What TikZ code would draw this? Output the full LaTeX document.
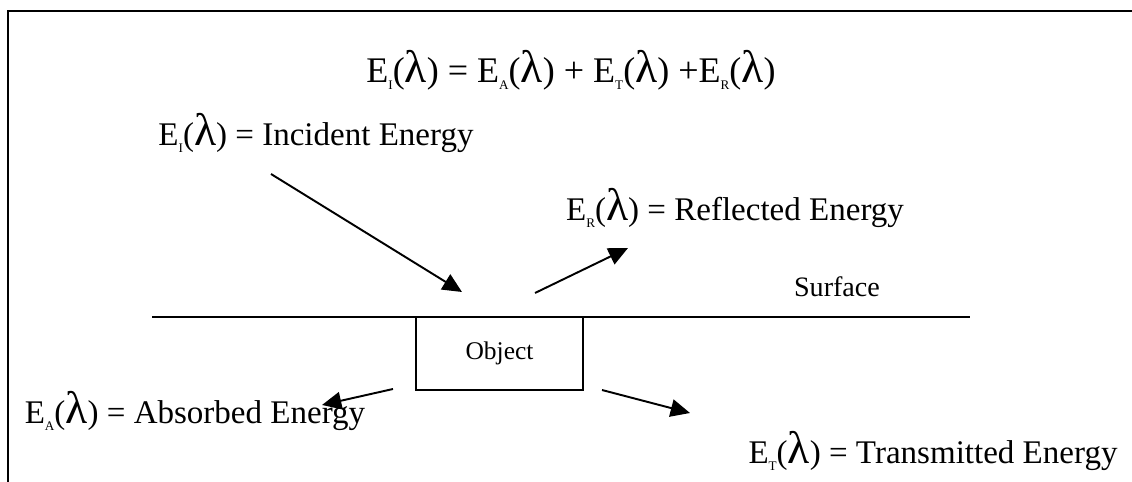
\documentclass[tikz,border=0pt]{standalone}
\usepackage{fontspec}
\setmainfont{Liberation Serif}
\usetikzlibrary{arrows.meta}
\newcommand{\En}[1]{E\raisebox{-0.45ex}{\fontsize{7.5}{7.5}\selectfont #1}({\fontsize{26}{26}\selectfont λ})}
\tikzset{ray/.style={->, line width=1.1pt}}

\begin{document}
\begin{tikzpicture}[x=0.02cm,y=-0.02cm,>={Triangle[length=11pt,width=10pt]},font=\fontsize{18.8}{20}\selectfont]
\useasboundingbox (0,0) rectangle (1132,482);
\draw[line width=1.2pt] (8,482) -- (8,11) -- (1132,11);
\node[font=\fontsize{20.5}{22}\selectfont] (eq) at (571,70) {\En{I} = \En{A} + \En{T} +\En{R}};
\node (inc) at (316,133) {\En{I} = Incident Energy};
\node (refl) at (735,208) {\En{R} = Reflected Energy};
\node[font=\fontsize{16}{18}\selectfont] (surf) at (837,287) {Surface};
\node (abs) at (195,411) {\En{A} = Absorbed Energy};
\node (trans) at (933,451) {\En{T} = Transmitted Energy};
% surface and object
\coordinate (sl) at (152,317);
\coordinate (sr) at (970,317);
\draw[line width=1pt] (sl) -- (sr);
\node[draw, line width=0.8pt, minimum width=3.34cm, minimum height=1.46cm, inner sep=0pt, font=\fontsize{14.5}{16}\selectfont] (obj) at (499.5,353.5) {Object};
% rays
\coordinate (i0) at (271,174); \coordinate (i1) at (462,292);
\coordinate (r0) at (535,293); \coordinate (r1) at (628,248);
\coordinate (a0) at (393,389); \coordinate (a1) at (322,405);
\coordinate (t0) at (602,390); \coordinate (t1) at (690,413);
\draw[ray] (i0) -- (i1);
\draw[ray] (r0) -- (r1);
\draw[ray] (a0) -- (a1);
\draw[ray] (t0) -- (t1);
\end{tikzpicture}
\end{document}
